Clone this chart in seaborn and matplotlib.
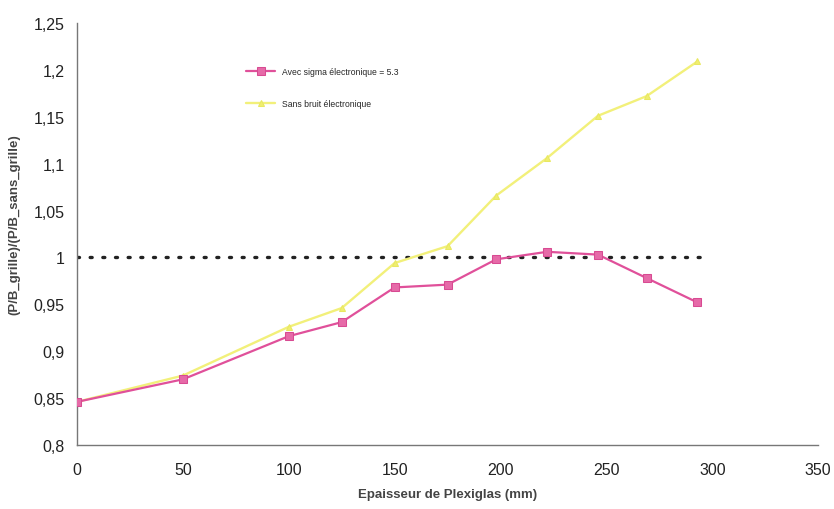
import matplotlib
matplotlib.use("Agg")
import matplotlib.pyplot as plt
import seaborn as sns
import pandas as pd

# Data
epaisseur = [0, 50, 100, 125, 150, 175, 198, 222, 246, 269, 293]
avec_sigma = [0.846, 0.870, 0.916, 0.931, 0.968, 0.971, 0.998, 1.006, 1.003, 0.978, 0.952]
sans_bruit = [0.846, 0.874, 0.926, 0.946, 0.994, 1.012, 1.066, 1.106, 1.151, 1.172, 1.209]
ref_x = [0, 297]
ref_y = [1.0, 1.0]

serie_avec = "Avec sigma électronique = 5.3"
serie_sans = "Sans bruit électronique"

x_ticks = [0, 50, 100, 150, 200, 250, 300, 350]
y_ticks = [0.8, 0.85, 0.9, 0.95, 1.0, 1.05, 1.1, 1.15, 1.2, 1.25]
y_tick_labels = ["0,8", "0,85", "0,9", "0,95", "1", "1,05", "1,1", "1,15", "1,2", "1,25"]

sns.set_style("white")
plt.rcParams['font.family'] = ['Liberation Sans', 'DejaVu Sans']

df = pd.DataFrame({
    "x": epaisseur * 2,
    "y": avec_sigma + sans_bruit,
    "serie": [serie_avec] * len(epaisseur) + [serie_sans] * len(epaisseur),
})
df_ref = pd.DataFrame({"x": ref_x, "y": ref_y})

fig = plt.figure(figsize=(8.34, 5.10), dpi=100)
ax = fig.add_axes([0.0923, 0.1255, 0.8887, 0.8275])

sns.lineplot(data=df_ref, x="x", y="y", ax=ax, color="#222222",
             linestyle=(0, (0.6, 3.2)), linewidth=2.4, dash_capstyle="round",
             legend=False, zorder=2)

sns.lineplot(data=df[df.serie == serie_sans], x="x", y="y", ax=ax,
             color="#F2F07A", linewidth=1.7, marker="^", markersize=4.5,
             markeredgecolor="#E8E860", markerfacecolor="#F0EE70",
             label=serie_sans, zorder=3)
sns.lineplot(data=df[df.serie == serie_avec], x="x", y="y", ax=ax,
             color="#E0509A", linewidth=1.6, marker="s", markersize=5.5,
             markeredgecolor="#D84A92", markerfacecolor="#E66AA8",
             label=serie_avec, zorder=4)

ax.set_xlim(0, 350)
ax.set_ylim(0.8, 1.25)
ax.set_xticks(x_ticks)
ax.set_xticklabels([str(v) for v in x_ticks])
ax.set_yticks(y_ticks)
ax.set_yticklabels(y_tick_labels)
ax.tick_params(axis="both", labelsize=11.5, colors="#333333", length=3,
               width=0.8, direction="out", pad=6)
ax.tick_params(axis="x", pad=9)
for lab in ax.get_xticklabels() + ax.get_yticklabels():
    lab.set_color("#222222")

for s in ["top", "right"]:
    ax.spines[s].set_visible(False)
for s in ["left", "bottom"]:
    ax.spines[s].set_color("#777777")
    ax.spines[s].set_linewidth(1.0)

ax.set_xlabel("Epaisseur de Plexiglas (mm)", fontsize=9.5, fontweight="bold",
              color="#444444", labelpad=8)
ax.set_ylabel("(P/B_grille)/(P/B_sans_grille)", fontsize=9.5, fontweight="bold",
              color="#444444")
ax.yaxis.set_label_coords(-0.077, 0.524)

handles, labels = ax.get_legend_handles_labels()
order = [labels.index(serie_avec), labels.index(serie_sans)]
leg = ax.legend([handles[i] for i in order], [labels[i] for i in order],
                loc="upper left", bbox_to_anchor=(0.2175, 0.915), frameon=False,
                fontsize=6.2, handlelength=3.4, labelspacing=2.7,
                handletextpad=0.8)

fig.savefig("out.png", dpi=100)
